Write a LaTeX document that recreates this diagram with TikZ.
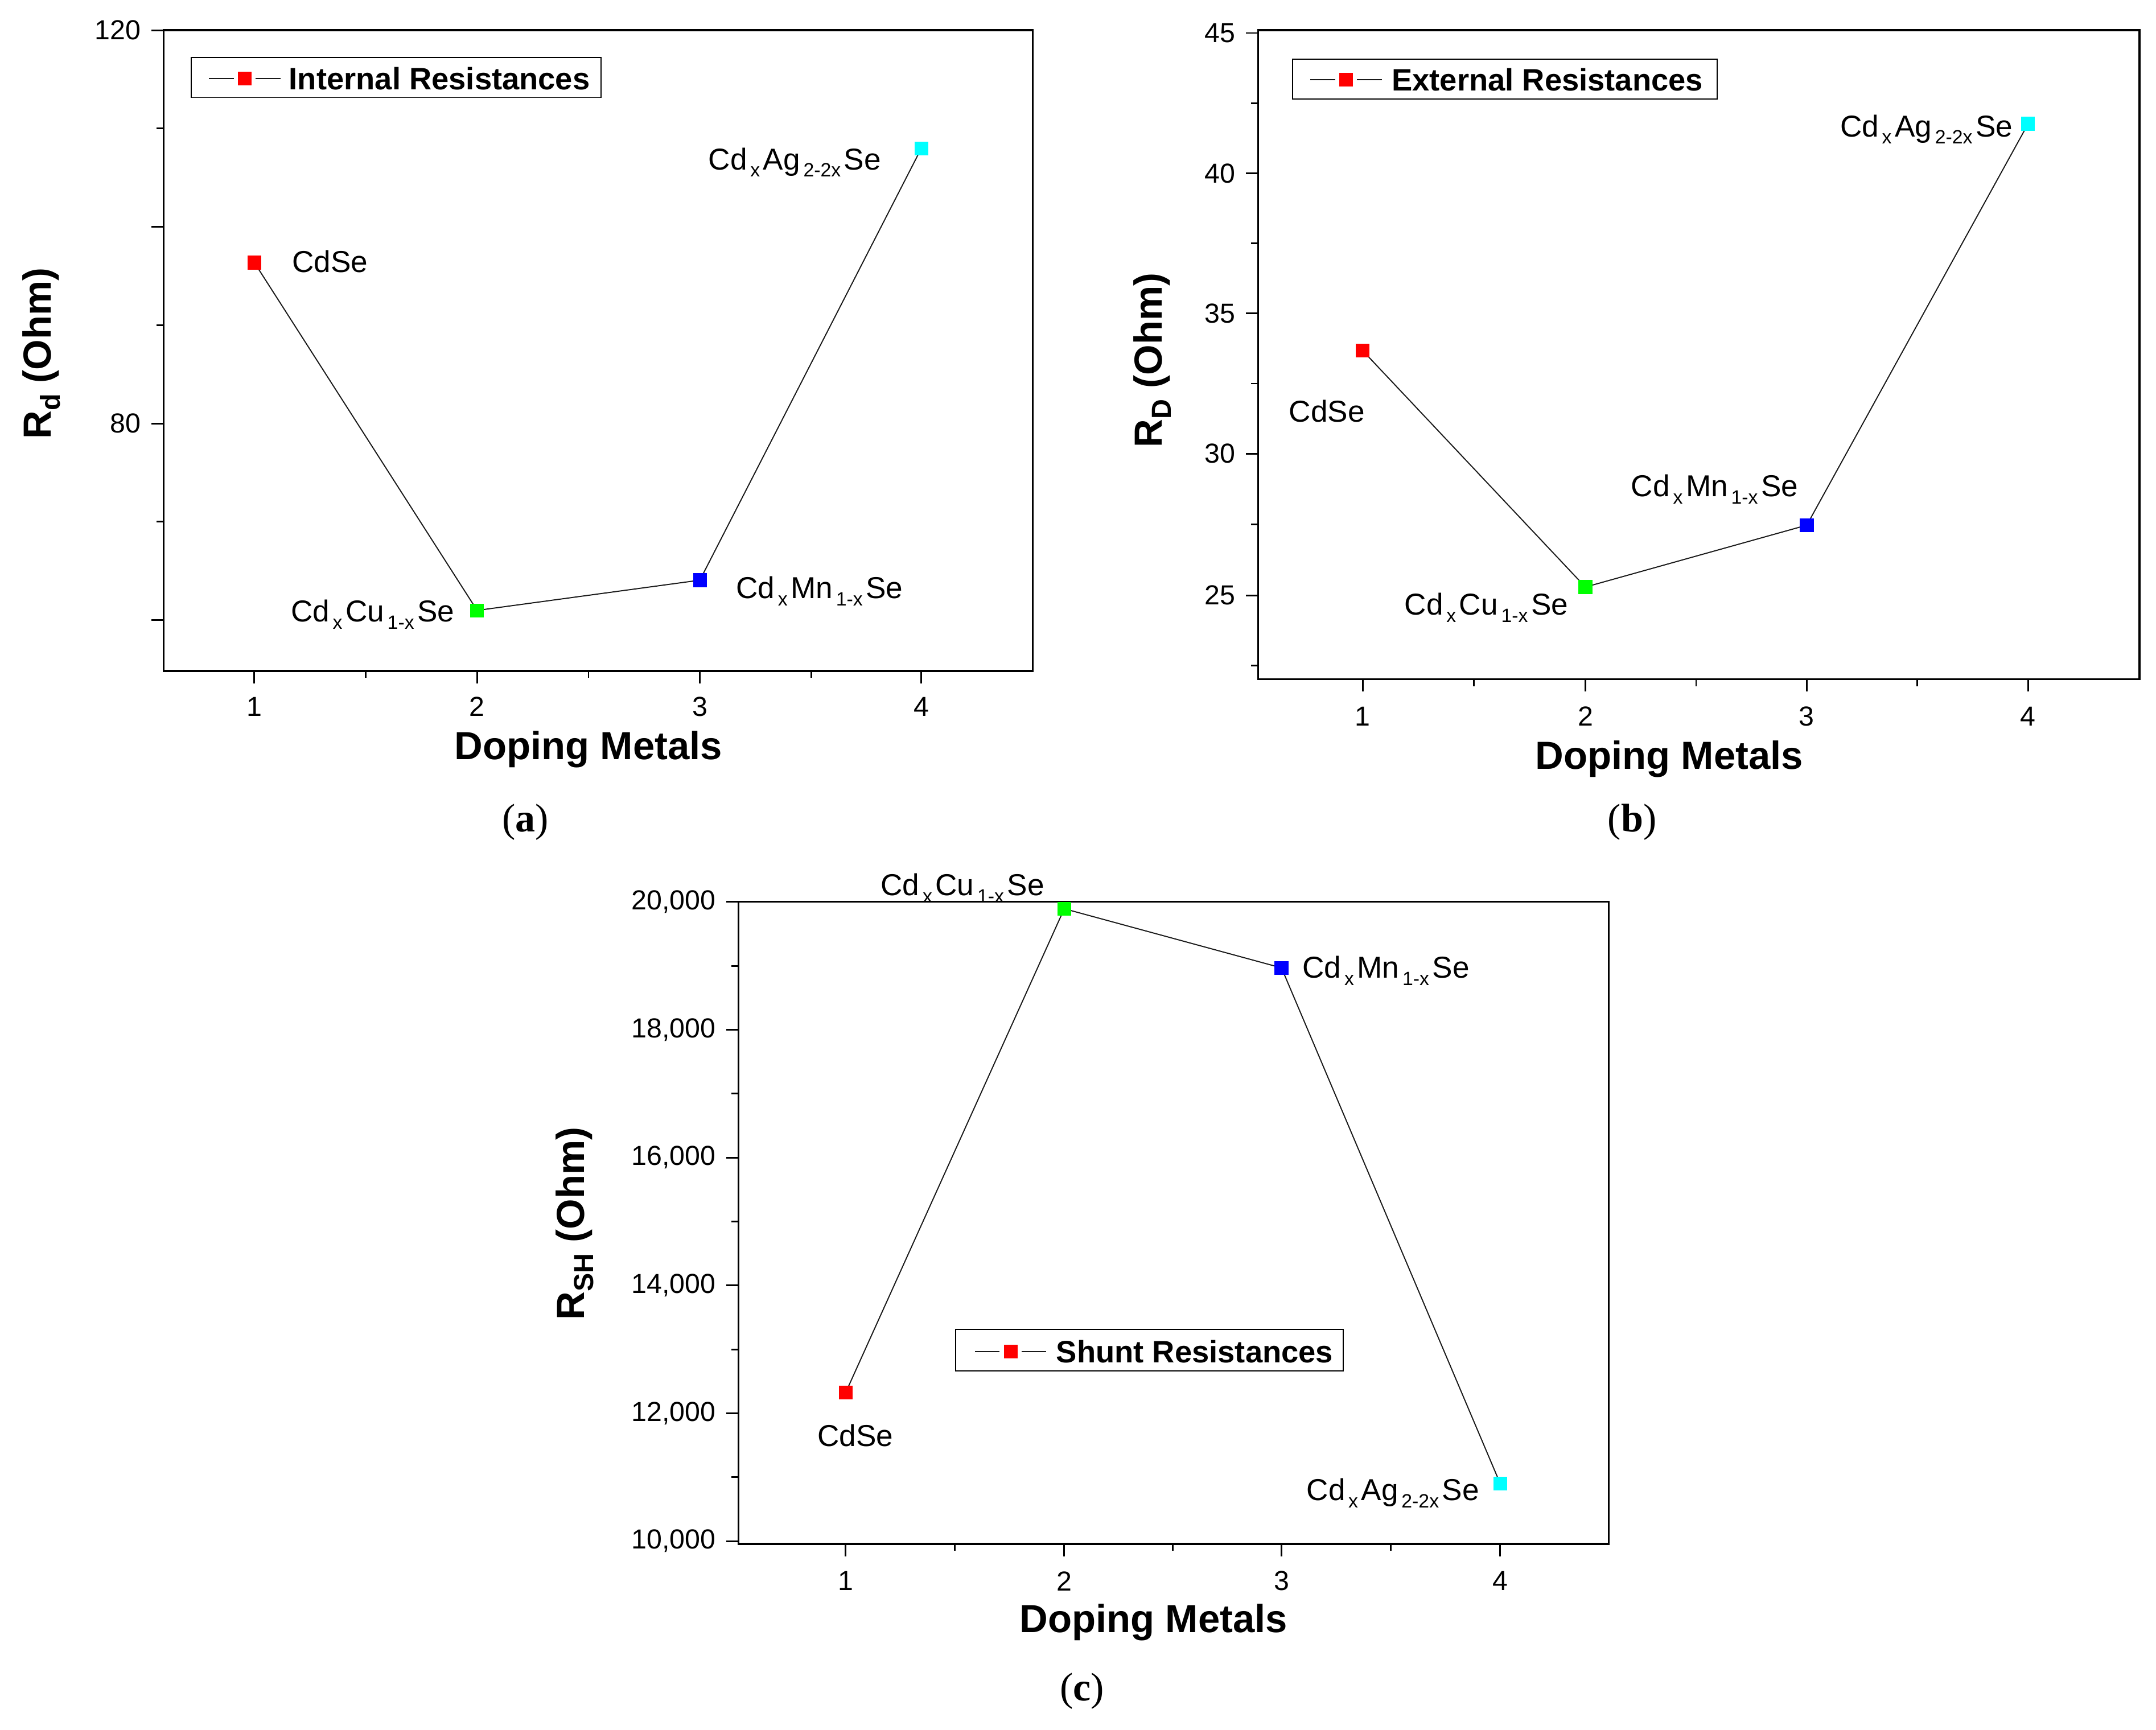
\documentclass[tikz,border=0pt]{standalone}
\usepackage{fontspec}
\setmainfont{Liberation Serif}
\setsansfont{Liberation Sans}
\newcommand{\mysub}[1]{\raisebox{-0.45ex}{\fontsize{14}{15}\selectfont\,#1\,}}
\newcommand{\axsub}[1]{\raisebox{-0.45ex}{\fontsize{20}{21}\selectfont #1}}
\begin{document}
\begin{tikzpicture}[x=1pt,y=-1pt,
  ax/.style={line width=1.4pt},
  tk/.style={line width=1.2pt},
  conn/.style={line width=0.8pt,black!90},
  mk/.style={minimum size=10pt,inner sep=0pt,draw=none},
  tl/.style={font=\sffamily\fontsize{20}{22}\selectfont},
  lab/.style={font=\sffamily\fontsize{22}{24}\selectfont,inner sep=0pt},
  axl/.style={font=\sffamily\bfseries\fontsize{28.5}{31}\selectfont},
  leg/.style={font=\sffamily\bfseries\fontsize{22.5}{24}\selectfont,anchor=west,inner sep=0pt},
  pcap/.style={font=\fontsize{29}{31}\selectfont}]
\definecolor{gr}{RGB}{0,255,0}
\definecolor{cy}{RGB}{0,255,255}
\useasboundingbox (0,0) rectangle (1568,1258);
% ---------- panel a ----------
\draw[ax] (119,22) rectangle (751,488);
\foreach \x/\l in {185/1,347/2,509/3,670/4}{\draw[tk] (\x,488)--(\x,497); \node[tl] at (\x,514) {\l};}
\foreach \x in {266,428,590}{\draw[tk] (\x,488)--(\x,493);}
\foreach \y in {22,165,308,451}{\draw[tk] (119,\y)--(110,\y);}
\foreach \y in {93.5,236.5,379.5}{\draw[tk] (119,\y)--(114,\y);}
\node[tl,anchor=east] at (106,22) {120};
\node[tl,anchor=east] at (106,308) {80};
\node[axl,rotate=90] at (30,257) {R\axsub{d} (Ohm)};
\node[axl] at (428,545) {Doping Metals};
\node[pcap] at (382,598) {(\textbf{a})};
\draw[line width=0.8pt] (139,42) rectangle (437,71);
\draw[conn] (152,57)--(170,57) (186,57)--(204,57);
\node[mk,fill=red] at (178,57) {};
\node[leg] at (210,57) {Internal Resistances};
\node[mk,fill=red] (a1) at (185,191) {};
\node[mk,fill=gr] (a2) at (347,444) {};
\node[mk,fill=blue] (a3) at (509,422) {};
\node[mk,fill=cy] (a4) at (670,108) {};
\draw[conn] (a1.center)--(a2.center)--(a3.center)--(a4.center);
\node[mk,fill=red] at (a1) {};\node[mk,fill=gr] at (a2) {};\node[mk,fill=blue] at (a3) {};\node[mk,fill=cy] at (a4) {};
\node[lab] at (240,190) {CdSe};
\node[lab] at (271,447) {Cd\mysub{x}Cu\mysub{1-x}Se};
\node[lab] at (596,430) {Cd\mysub{x}Mn\mysub{1-x}Se};
\node[lab] at (578,118) {Cd\mysub{x}Ag\mysub{2-2x}Se};
% ---------- panel b ----------
\draw[ax] (915,22) rectangle (1556,494);
\foreach \x/\l in {991/1,1153/2,1314/3,1475/4}{\draw[tk] (\x,494)--(\x,503); \node[tl] at (\x,521) {\l};}
\foreach \x in {1072,1233.5,1394.5}{\draw[tk] (\x,494)--(\x,499);}
\foreach \y/\l in {24/45,126/40,228/35,330/30,433/25}{\draw[tk] (915,\y)--(906,\y); \node[tl,anchor=east] at (902,\y) {\l};}
\foreach \y in {75,177,279,381.5,484}{\draw[tk] (915,\y)--(910,\y);}
\node[axl,rotate=90] at (838,262) {R\axsub{D} (Ohm)};
\node[axl] at (1214,552) {Doping Metals};
\node[pcap] at (1187,598) {(\textbf{b})};
\draw[line width=0.8pt] (940,43) rectangle (1249,72);
\draw[conn] (953,58)--(971,58) (987,58)--(1005,58);
\node[mk,fill=red] at (979,58) {};
\node[leg] at (1012,58) {External Resistances};
\node[mk,fill=red] (b1) at (991,255) {};
\node[mk,fill=gr] (b2) at (1153,427) {};
\node[mk,fill=blue] (b3) at (1314,382) {};
\node[mk,fill=cy] (b4) at (1475,90) {};
\draw[conn] (b1.center)--(b2.center)--(b3.center)--(b4.center);
\node[mk,fill=red] at (b1) {};\node[mk,fill=gr] at (b2) {};\node[mk,fill=blue] at (b3) {};\node[mk,fill=cy] at (b4) {};
\node[lab] at (965,299) {CdSe};
\node[lab] at (1081,442) {Cd\mysub{x}Cu\mysub{1-x}Se};
\node[lab] at (1247,356) {Cd\mysub{x}Mn\mysub{1-x}Se};
\node[lab] at (1401,94) {Cd\mysub{x}Ag\mysub{2-2x}Se};
% ---------- panel c ----------
\draw[ax] (537,656) rectangle (1170,1123);
\foreach \x/\l in {615/1,774/2,932/3,1091/4}{\draw[tk] (\x,1123)--(\x,1132); \node[tl] at (\x,1150) {\l};}
\foreach \x in {694.5,853,1011.5}{\draw[tk] (\x,1123)--(\x,1128);}
\foreach \y/\l in {656/{20,000},749/{18,000},842/{16,000},935/{14,000},1028/{12,000},1121/{10,000}}{\draw[tk] (537,\y)--(528,\y); \node[tl,anchor=east] at (524,\y) {\l};}
\foreach \y in {702.5,795.5,888.5,981.5,1074.5}{\draw[tk] (537,\y)--(532,\y);}
\node[axl,rotate=90] at (418,890) {R\axsub{SH} (Ohm)};
\node[axl] at (839,1180) {Doping Metals};
\node[pcap] at (787,1230) {(\textbf{c})};
\draw[line width=0.8pt] (695,967) rectangle (977,997);
\draw[conn] (709,983)--(727,983) (743,983)--(761,983);
\node[mk,fill=red] at (735,983) {};
\node[leg] at (768,983) {Shunt Resistances};
\node[mk,fill=red] (c1) at (615,1013) {};
\node[mk,fill=gr] (c2) at (774,661) {};
\node[mk,fill=blue] (c3) at (932,704) {};
\node[mk,fill=cy] (c4) at (1091,1079) {};
\draw[conn] (c1.center)--(c2.center)--(c3.center)--(c4.center);
\node[mk,fill=red] at (c1) {};\node[mk,fill=gr] at (c2) {};\node[mk,fill=blue] at (c3) {};\node[mk,fill=cy] at (c4) {};
\node[lab] at (700,646) {Cd\mysub{x}Cu\mysub{1-x}Se};
\node[lab] at (1008,706) {Cd\mysub{x}Mn\mysub{1-x}Se};
\node[lab] at (622,1044) {CdSe};
\node[lab] at (1013,1086) {Cd\mysub{x}Ag\mysub{2-2x}Se};
\end{tikzpicture}
\end{document}
